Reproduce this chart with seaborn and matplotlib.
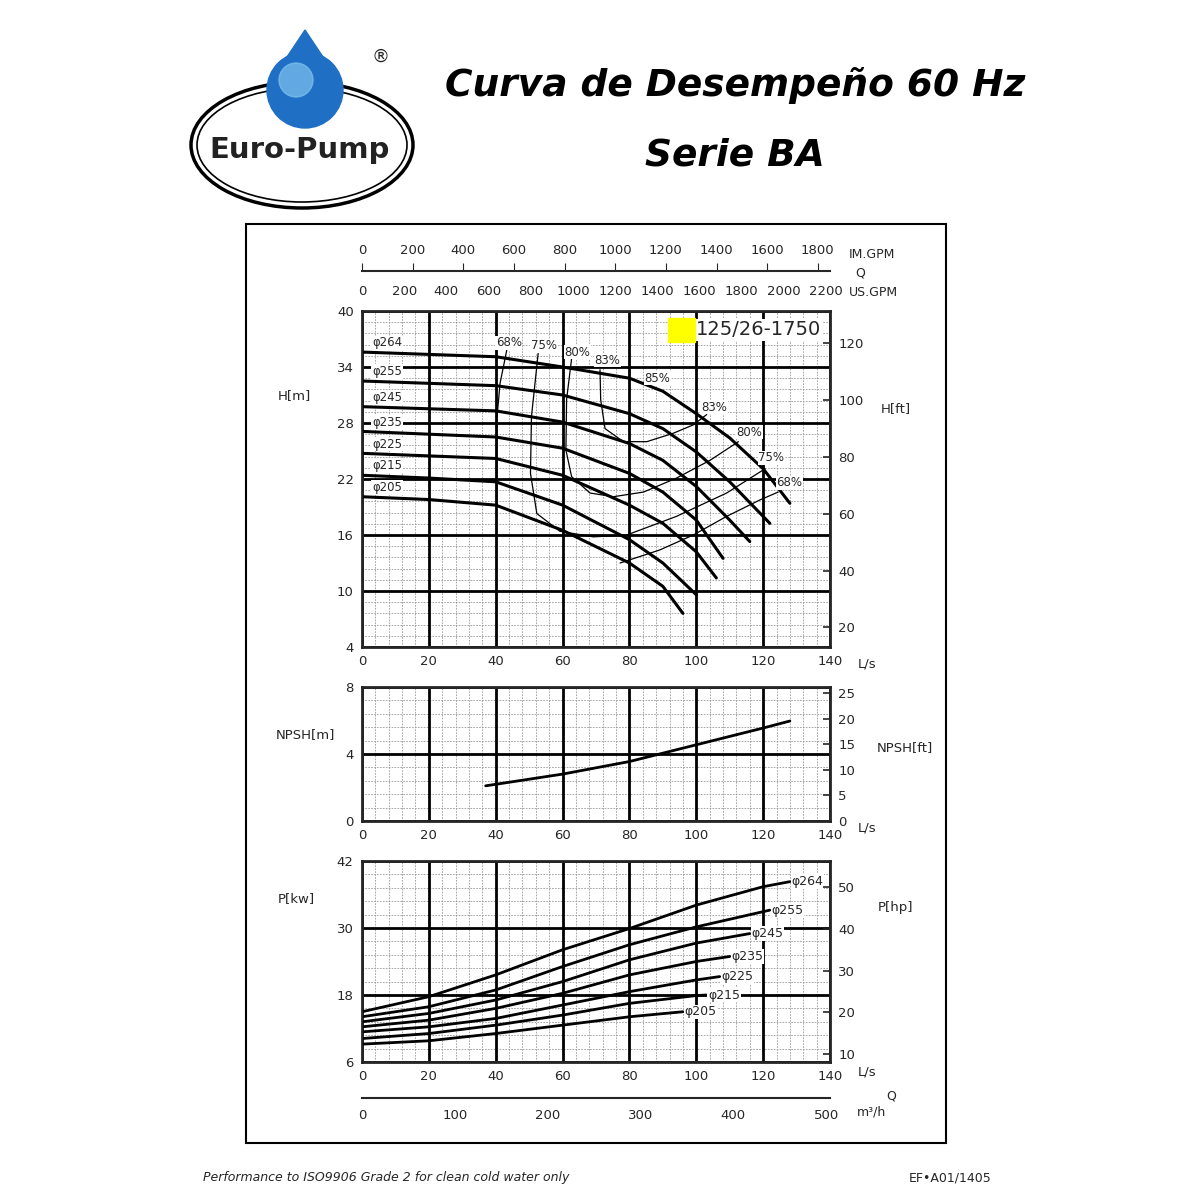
import numpy as np
import pandas as pd
import matplotlib
matplotlib.use('Agg')
import matplotlib.pyplot as plt
import matplotlib.patches as mpatches
import seaborn as sns

# ---- data: impeller head curves, Q [L/s] vs H [m]
diameters = ['φ264', 'φ255', 'φ245', 'φ235', 'φ225', 'φ215', 'φ205']
head_q = [
    [0, 40, 60, 80, 90, 100, 110, 120, 128],
    [0, 40, 60, 80, 90, 100, 110, 122],
    [0, 40, 60, 80, 90, 100, 110, 116],
    [0, 40, 60, 80, 90, 100, 108],
    [0, 40, 60, 80, 90, 100, 106],
    [0, 20, 40, 60, 80, 90, 100],
    [0, 20, 40, 60, 80, 90, 96],
]
head_h = [
    [35.6, 35.1, 34.0, 32.8, 31.4, 29.0, 26.4, 23.1, 19.4],
    [32.5, 32.0, 31.0, 29.0, 27.4, 24.9, 21.7, 17.25],
    [29.75, 29.3, 28.1, 25.8, 24.0, 21.2, 17.6, 15.3],
    [27.1, 26.5, 25.3, 22.6, 20.6, 17.6, 13.5],
    [24.75, 24.2, 22.4, 19.2, 17.25, 14.2, 11.4],
    [22.4, 22.1, 21.7, 19.2, 15.5, 13.0, 9.6],
    [20.1, 19.8, 19.2, 16.5, 13.0, 10.5, 7.6],
]

# ---- efficiency iso-lines
eff_names = ['68a', '75', '80', '83', '68b']
eff_q = [
    [43.3, 41.3, 40.3, 40.3],
    [52.7, 50.7, 50.4, 52.3, 59.2, 69.2, 79.2, 94.1, 109.1, 120.6],
    [62.7, 61.2, 61.0, 62.7, 68.2, 75.2, 84.2, 94.1, 104.1, 112.6],
    [71.2, 71.4, 72.7, 78.2, 85.2, 93.1, 99.1, 103.1],
    [77.2, 89.1, 99.1, 109.1, 119.0, 124.5],
]
eff_h = [
    [35.8, 32.25, 28.3, 19.2],
    [35.46, 28.7, 22.6, 18.3, 16.4, 15.8, 16.0, 18.0, 20.5, 23.1],
    [34.9, 30.5, 25.1, 22.25, 20.5, 20.1, 20.6, 22.1, 24.0, 26.0],
    [33.7, 30.5, 27.4, 26.0, 26.0, 26.9, 27.8, 28.9],
    [13.0, 14.4, 16.0, 18.0, 19.75, 20.6],
]
eff_labels = ['68%', '75%', '80%', '83%', '85%', '83%', '80%', '75%', '68%']
eff_label_q = [40.0, 50.5, 60.5, 69.5, 84.5, 101.5, 112.0, 118.5, 124.0]
eff_label_h = [35.9, 35.6, 34.9, 34.0, 32.1, 29.0, 26.3, 23.6, 20.9]

# ---- NPSH
npsh_q = [37, 60, 80, 100, 120, 128]
npsh_m = [2.1, 2.8, 3.55, 4.55, 5.55, 5.97]

# ---- power curves
pow_q = [
    [0, 20, 40, 60, 80, 100, 120, 128],
    [0, 20, 40, 60, 80, 100, 122],
    [0, 20, 40, 60, 80, 100, 116],
    [0, 20, 40, 60, 80, 100, 110],
    [0, 20, 40, 60, 80, 100, 107],
    [0, 20, 40, 60, 80, 100, 103],
    [0, 20, 40, 60, 80, 96],
]
pow_kw = [
    [15.0, 17.7, 21.6, 26.1, 29.9, 34.1, 37.4, 38.3],
    [14.1, 15.9, 18.9, 23.1, 27.0, 30.2, 33.2],
    [13.2, 14.7, 17.1, 20.4, 24.3, 27.3, 29.0],
    [12.3, 13.5, 15.6, 18.3, 21.6, 24.0, 24.9],
    [11.4, 12.3, 13.8, 16.2, 18.6, 20.7, 21.3],
    [10.2, 11.1, 12.6, 14.4, 16.5, 17.9, 18.0],
    [9.2, 9.8, 11.1, 12.6, 14.1, 15.0],
]

us_gpm_ticks = [0, 200, 400, 600, 800, 1000, 1200, 1400, 1600, 1800, 2000, 2200]
im_gpm_ticks = [0, 200, 400, 600, 800, 1000, 1200, 1400, 1600, 1800]
m3h_ticks = [0, 100, 200, 300, 400, 500]

sns.set_style('white')
plt.rcParams['font.family'] = ['DejaVu Sans']

W, H = 1200, 1200
fig = plt.figure(figsize=(12, 12), dpi=100)


def px_axes(x0, y0, x1, y1):
    return fig.add_axes([x0 / W, 1 - y1 / H, (x1 - x0) / W, (y1 - y0) / H])


def grid(ax, ymin, ymax, ymajor, yminor):
    ax.set_xlim(0, 140)
    ax.set_ylim(ymin, ymax)
    for x in np.arange(0, 141, 4):
        if x % 20:
            ax.axvline(x, color='#999999', lw=0.6, ls=(0, (2, 1.5)), zorder=0)
    for y in np.arange(ymin, ymax + 1e-6, yminor):
        ax.axhline(y, color='#999999', lw=0.6, ls=(0, (2, 1.5)), zorder=0)
    for x in range(0, 141, 20):
        ax.axvline(x, color='black', lw=2, zorder=1)
    for y in np.arange(ymin, ymax + 1e-6, ymajor):
        ax.axhline(y, color='black', lw=2, zorder=1)
    ax.set_xticks(range(0, 141, 20))
    ax.set_yticks(np.arange(ymin, ymax + 1e-6, ymajor))
    ax.tick_params(labelsize=9.5, length=0, pad=6)
    for s in ax.spines.values():
        s.set_linewidth(2)
    ax.text(1.06, -0.05, 'L/s', transform=ax.transAxes, fontsize=9.5, va='center')


def lines(ax, qs, vs, lw, names):
    rows = []
    for n, q, v in zip(names, qs, vs):
        for a, b in zip(q, v):
            rows.append((n, a, b))
    df = pd.DataFrame(rows, columns=['c', 'q', 'v'])
    sns.lineplot(data=df, x='q', y='v', units='c', estimator=None, sort=False,
                 color='black', lw=lw, ax=ax, zorder=5)
    ax.set_xlabel('')
    ax.set_ylabel('')


# ---- head chart
ax1 = px_axes(362, 311, 830, 647)
grid(ax1, 4, 40, 6, 1.2)
lines(ax1, head_q, head_h, 2.2, diameters)
lines(ax1, eff_q, eff_h, 0.9, eff_names)
for d, h in zip(diameters, head_h):
    ax1.text(3, h[0] + 0.3, d, fontsize=8.5, va='bottom',
             bbox=dict(fc='white', ec='none', pad=0.5), zorder=6)
for t, q, h in zip(eff_labels, eff_label_q, eff_label_h):
    ax1.text(q, h, t, fontsize=8.5, va='bottom', ha='left',
             bbox=dict(fc='white', ec='none', pad=0.3), zorder=6)
ax1.text(100, 38.0, '125/26-1750', fontsize=14, va='center', zorder=7,
         bbox=dict(fc='white', ec='none', pad=1))
ax1.add_patch(mpatches.Rectangle((91.5, 36.7), 8.1, 2.55, color='yellow', zorder=8))
r1 = ax1.twinx()
r1.set_ylim(4 * 3.2808, 40 * 3.2808)
r1.set_yticks(range(20, 121, 20))
r1.tick_params(labelsize=9.5, length=5, width=1.2, direction='in', pad=6)
r1.set_ylabel('H[ft]', rotation=0, fontsize=9.5)
r1.yaxis.set_label_coords(1.14, 0.73)
ax1.set_ylabel('H[m]', rotation=0, fontsize=9.5)
ax1.yaxis.set_label_coords(-0.145, 0.73)

# top flow scale
axq = px_axes(362, 270, 830, 271)
axq.set_xlim(0, 140)
axq.set_yticks([])
for s in ['top', 'left', 'right']:
    axq.spines[s].set_visible(False)
axq.spines['bottom'].set_linewidth(1.5)
axq.set_xticks([g / 15.85 for g in us_gpm_ticks])
axq.set_xticklabels(us_gpm_ticks)
axq.tick_params(axis='x', direction='in', length=6, labelsize=9.5, pad=10)
sec = axq.secondary_xaxis(0.0, functions=(lambda q: q * 13.2, lambda g: g / 13.2))
sec.set_xticks(im_gpm_ticks)
sec.tick_params(axis='x', direction='out', length=6, labelsize=9.5, top=True, labeltop=True,
                bottom=False, labelbottom=False, pad=4)
sec.spines['top'].set_visible(False)
sec.spines['bottom'].set_visible(False)
fig.text(849 / W, 1 - 254 / H, 'IM.GPM', fontsize=9, va='center')
fig.text(855 / W, 1 - 273 / H, 'Q', fontsize=9, va='center')
fig.text(849 / W, 1 - 293 / H, 'US.GPM', fontsize=9, va='center')

# ---- NPSH chart
ax2 = px_axes(362, 687, 830, 821)
grid(ax2, 0, 8, 4, 0.8)
sns.lineplot(x=npsh_q, y=npsh_m, color='black', lw=2, ax=ax2, zorder=5)
ax2.set_ylabel('NPSH[m]', rotation=0, fontsize=9.5)
ax2.yaxis.set_label_coords(-0.12, 0.6)
r2 = ax2.twinx()
r2.set_ylim(0, 8 * 3.2808)
r2.set_yticks(range(0, 26, 5))
r2.tick_params(labelsize=9.5, length=5, width=1.2, direction='in', pad=6)
r2.set_ylabel('NPSH[ft]', rotation=0, fontsize=9.5)
r2.yaxis.set_label_coords(1.16, 0.6)

# ---- power chart
ax3 = px_axes(362, 861, 830, 1062)
grid(ax3, 6, 42, 12, 2.4)
lines(ax3, pow_q, pow_kw, 2.0, diameters)
for d, q, p in zip(diameters, pow_q, pow_kw):
    ax3.text(q[-1] + 0.5, p[-1], d, fontsize=9, va='center', ha='left',
             bbox=dict(fc='white', ec='none', pad=0.5), zorder=6)
ax3.set_ylabel('P[kw]', rotation=0, fontsize=9.5)
ax3.yaxis.set_label_coords(-0.14, 0.78)
r3 = ax3.twinx()
r3.set_ylim(6 * 1.341, 42 * 1.341)
r3.set_yticks(range(10, 51, 10))
r3.tick_params(labelsize=9.5, length=5, width=1.2, direction='in', pad=6)
r3.set_ylabel('P[hp]', rotation=0, fontsize=9.5)
r3.yaxis.set_label_coords(1.14, 0.8)

# bottom m3/h scale
axm = px_axes(362, 1097, 830, 1098)
axm.set_xlim(0, 140)
axm.set_yticks([])
for s in ['top', 'left', 'right']:
    axm.spines[s].set_visible(False)
axm.spines['bottom'].set_linewidth(1.5)
axm.set_xticks([m / 3.6 for m in m3h_ticks])
axm.set_xticklabels(m3h_ticks)
axm.tick_params(axis='x', direction='in', length=6, labelsize=9.5, pad=8)
fig.text(886 / W, 1 - 1096 / H, 'Q', fontsize=9, va='center')
fig.text(857 / W, 1 - 1112 / H, 'm³/h', fontsize=9, va='center')

# ---- frame, title, logo, footer
fig.add_artist(mpatches.Rectangle((246 / W, 1 - 1143 / H), 700 / W, 919 / H,
                                  transform=fig.transFigure, fill=False, lw=1.5, ec='black'))
fig.text(735 / W, 1 - 85 / H, 'Curva de Desempeño 60 Hz', fontsize=27, fontweight='bold',
         style='italic', ha='center', va='center', color='black')
fig.text(735 / W, 1 - 155 / H, 'Serie BA', fontsize=27, fontweight='bold',
         style='italic', ha='center', va='center', color='black')

lg = px_axes(185, 25, 420, 215)
lg.set_xlim(185, 420)
lg.set_ylim(215, 25)
lg.axis('off')
lg.add_patch(mpatches.Ellipse((302, 145), 222, 126, fill=False, lw=2.5, ec='black'))
lg.add_patch(mpatches.Ellipse((302, 145), 210, 114, fill=False, lw=1.2, ec='black'))
lg.add_patch(mpatches.Polygon([(305, 30), (275, 75), (335, 75)], color='#1f6fc4'))
lg.add_patch(mpatches.Circle((305, 90), 38, color='#1f6fc4'))
lg.add_patch(mpatches.Circle((296, 80), 17, color='#7fc3f0', alpha=0.7))
lg.text(300, 150, 'Euro-Pump', fontsize=21, fontweight='bold', ha='center', va='center',
        color='#222222')
lg.text(380, 57, '®', fontsize=13, ha='center', va='center')

fig.text(203 / W, 1 - 1178 / H, 'Performance to ISO9906 Grade 2 for clean cold water only',
         fontsize=9, style='italic', va='center')
fig.text(992 / W, 1 - 1178 / H, 'EF•A01/1405', fontsize=9, ha='right', va='center')

fig.savefig('out.png', dpi=100, facecolor='white')
